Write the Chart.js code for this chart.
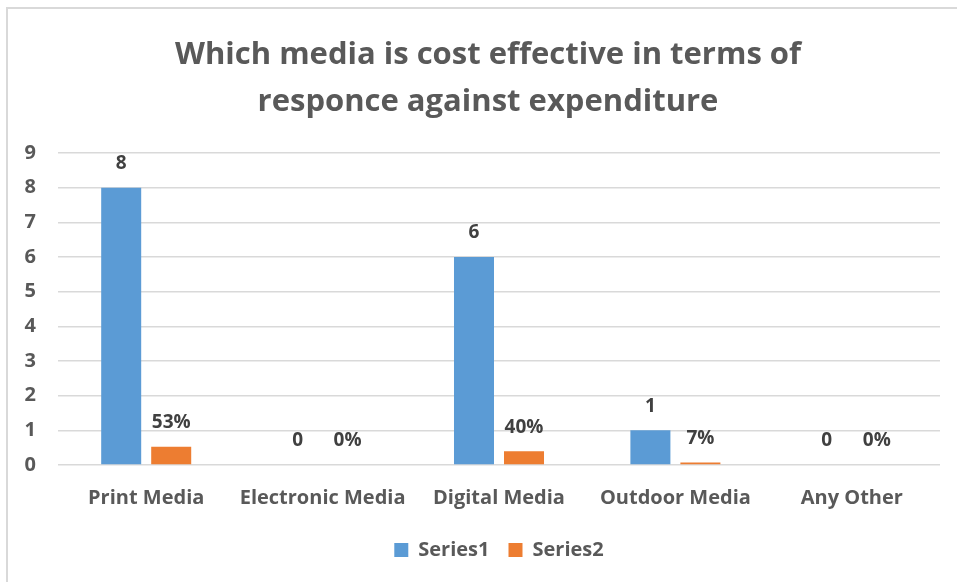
<!DOCTYPE html>
<html>
<head>
<meta charset="utf-8">
<title>Media cost effectiveness</title>
<script src="https://cdn.jsdelivr.net/npm/chart.js@4/dist/chart.umd.min.js"></script>
<style>
    html, body { margin: 0; padding: 0; background: #fff; }
    #wrap { position: relative; width: 957px; height: 582px; }
    #frame {
        position: absolute; left: 6px; top: 7px; right: -4px; bottom: -4px;
        border-left: 2px solid #d9d9d9; border-top: 2px solid #d9d9d9;
        pointer-events: none;
    }
    canvas { position: absolute; left: 0; top: 0; }
</style>
</head>
<body>
<div id="wrap">
    <div id="frame"></div>
    <canvas id="barChart" width="957" height="582"></canvas>
</div>
<script>
// Chart data
const categories = ['Print Media', 'Electronic Media', 'Digital Media', 'Outdoor Media', 'Any Other'];
const series1 = [8, 0, 6, 1, 0];
const series2 = [0.53, 0, 0.40, 0.07, 0]; // shares, printed as percentages
const titleLines = ['Which media is cost effective in terms of', 'responce against expenditure'];

const FONT = '"Open Sans", Lato, sans-serif';
const TEXT_GREY = '#595959';

// Title is centred on the outer frame rather than the plot, so it is drawn here
const TITLE_SIZE = 31;
const TITLE_LINE = 47;
const TITLE_TOP = 32;
const TITLE_CENTRE_X = 488;

const frameTitle = {
    id: 'frameTitle',
    afterDraw(chart) {
        const ctx = chart.ctx;
        ctx.save();
        ctx.font = 'bold ' + TITLE_SIZE + 'px ' + FONT;
        ctx.fillStyle = TEXT_GREY;
        ctx.textAlign = 'center';
        ctx.textBaseline = 'middle';
        titleLines.forEach((line, i) => {
            ctx.fillText(line, TITLE_CENTRE_X, TITLE_TOP + TITLE_LINE / 2 + i * TITLE_LINE);
        });
        ctx.restore();
    }
};

// Draws the value above every bar
const valueLabels = {
    id: 'valueLabels',
    afterDatasetsDraw(chart) {
        const ctx = chart.ctx;
        ctx.save();
        ctx.font = 'bold 19px ' + FONT;
        ctx.fillStyle = '#404040';
        ctx.textAlign = 'center';
        ctx.textBaseline = 'middle';
        chart.data.datasets.forEach((ds, i) => {
            chart.getDatasetMeta(i).data.forEach((bar, j) => {
                const v = ds.data[j];
                const text = i === 0 ? String(v) : Math.round(v * 100) + '%';
                ctx.fillText(text, bar.x, bar.y - 24);
            });
        });
        ctx.restore();
    }
};

new Chart(document.getElementById('barChart').getContext('2d'), {
    type: 'bar',
    data: {
        labels: categories,
        datasets: [
            { label: 'Series1', data: series1, backgroundColor: '#5b9bd5' },
            { label: 'Series2', data: series2, backgroundColor: '#ed7d31' }
        ]
    },
    options: {
        responsive: false,
        animation: false,
        categoryPercentage: 0.567,
        barPercentage: 0.8,
        layout: { padding: { left: 10, right: 17, top: TITLE_TOP + 2 * TITLE_LINE + 27, bottom: 12 } },
        plugins: {
            title: { display: false },
            legend: {
                position: 'bottom',
                fullSize: false,
                labels: {
                    color: TEXT_GREY,
                    font: { family: FONT, size: 20, weight: 'bold' },
                    boxWidth: 14,
                    boxHeight: 14,
                    padding: 19
                }
            },
            tooltip: { enabled: false }
        },
        scales: {
            x: {
                grid: { display: false },
                border: { display: false },
                ticks: {
                    color: TEXT_GREY,
                    font: { family: FONT, size: 20, weight: 'bold' },
                    padding: 13,
                    maxRotation: 0,
                    autoSkip: false
                },
                afterFit(scale) { scale.height = 56; }
            },
            y: {
                min: 0,
                max: 9,
                grid: { color: '#d9d9d9', lineWidth: 1.5, drawTicks: false },
                border: { display: false },
                ticks: {
                    stepSize: 1,
                    color: TEXT_GREY,
                    font: { family: FONT, size: 20, weight: 'bold' },
                    padding: 22
                },
                afterFit(scale) { scale.width = 48; }
            }
        }
    },
    plugins: [valueLabels, frameTitle]
});
</script>
</body>
</html>
